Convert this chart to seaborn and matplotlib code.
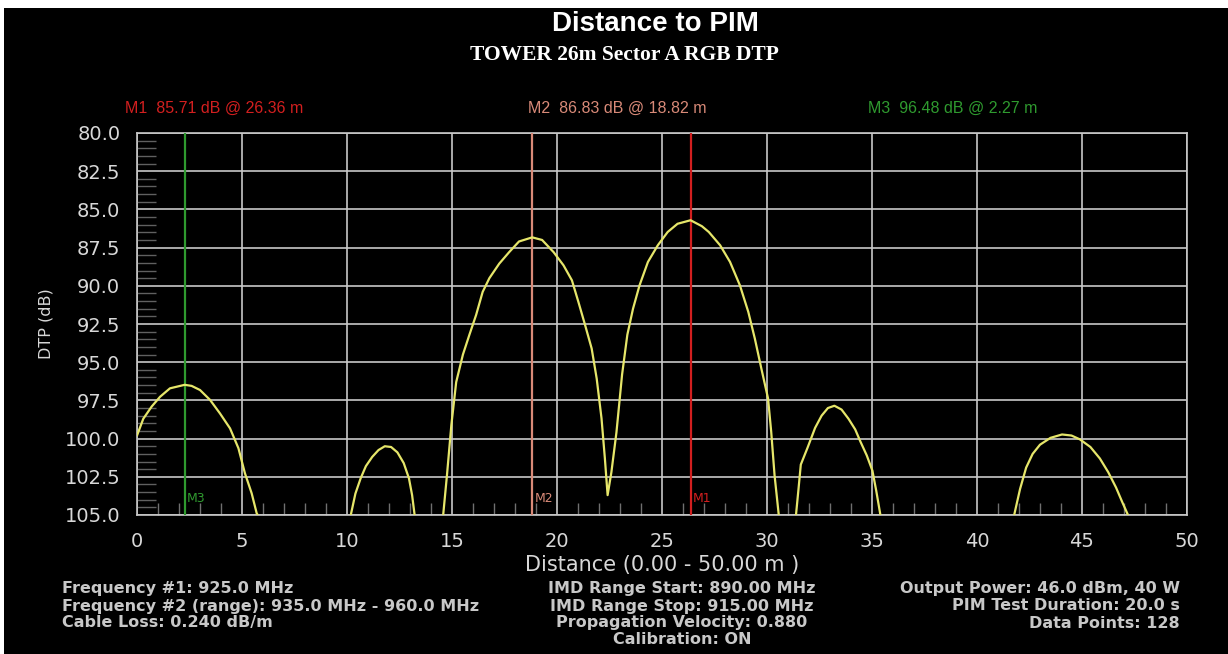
import numpy as np
import pandas as pd
import matplotlib
matplotlib.use("Agg")
import matplotlib.pyplot as plt
import seaborn as sns
from matplotlib.ticker import MultipleLocator
from matplotlib.patches import Rectangle

# ---------------- data ----------------
seg1_x = [0.0, 0.3, 0.7, 1.1, 1.57, 2.27, 2.6, 3.0, 3.48, 3.95, 4.43, 4.83,
          5.14, 5.46, 5.7, 5.75]
seg1_y = [99.8, 98.7, 97.9, 97.26, 96.71, 96.48, 96.55, 96.82, 97.47, 98.35,
          99.33, 100.63, 102.27, 103.58, 104.89, 105.0]

seg2_x = [10.18, 10.4, 10.65, 10.9, 11.2, 11.5, 11.8, 12.1, 12.4, 12.7,
          12.95, 13.1, 13.22]
seg2_y = [105.0, 103.6, 102.6, 101.8, 101.2, 100.75, 100.5, 100.55, 100.9,
          101.6, 102.6, 103.7, 105.0]

seg3_x = [14.58, 14.76, 14.97, 15.2, 15.52, 15.83, 16.15, 16.46, 16.78, 17.25,
          17.72, 18.19, 18.82, 19.29, 19.84, 20.31, 20.71, 21.02, 21.34, 21.65,
          21.89, 22.12, 22.28, 22.41, 22.59, 22.83, 23.1, 23.35, 23.62, 23.93,
          24.33, 24.8, 25.27, 25.74, 26.36, 26.9, 27.23, 27.77, 28.24, 28.71,
          29.11, 29.42, 29.73, 30.05, 30.2, 30.36, 30.56]
seg3_y = [105.0, 102.4, 99.1, 96.3, 94.5, 93.2, 91.9, 90.4, 89.5, 88.55,
          87.8, 87.1, 86.83, 87.0, 87.8, 88.66, 89.64, 91.06, 92.58, 94.1,
          96.07, 98.68, 101.3, 103.7, 102.2, 99.6, 95.8, 93.2, 91.5, 89.97,
          88.44, 87.35, 86.48, 85.94, 85.71, 86.1, 86.48, 87.35, 88.44, 89.97,
          91.71, 93.45, 95.41, 97.37, 99.55, 102.4, 105.0]

seg4_x = [31.38, 31.5, 31.61, 31.93, 32.29, 32.6, 32.9, 33.21, 33.55, 33.88,
          34.2, 34.45, 34.75, 35.02, 35.2, 35.4]
seg4_y = [105.0, 103.3, 101.7, 100.6, 99.3, 98.5, 98.0, 97.85, 98.1, 98.7,
          99.4, 100.2, 101.1, 102.1, 103.4, 105.0]

seg5_x = [41.77, 42.05, 42.34, 42.65, 43.0, 43.5, 44.05, 44.5, 44.9, 45.4,
          45.85, 46.25, 46.62, 46.9, 47.19]
seg5_y = [105.0, 103.3, 101.9, 101.0, 100.4, 99.95, 99.73, 99.8, 100.05,
          100.55, 101.3, 102.2, 103.2, 104.1, 105.0]

marker_names = ["M1", "M2", "M3"]
marker_x = [26.36, 18.82, 2.27]
marker_db = [85.71, 86.83, 96.48]

x_ticks = list(range(0, 51, 5))
y_ticks = [80.0, 82.5, 85.0, 87.5, 90.0, 92.5, 95.0, 97.5, 100.0, 102.5, 105.0]

info_left = ["Frequency #1: 925.0 MHz",
             "Frequency #2 (range): 935.0 MHz - 960.0 MHz",
             "Cable Loss: 0.240 dB/m"]
info_mid = ["IMD Range Start: 890.00 MHz",
            "IMD Range Stop: 915.00 MHz",
            "Propagation Velocity: 0.880",
            "Calibration: ON"]
info_right = ["Output Power: 46.0 dBm, 40 W",
              "PIM Test Duration: 20.0 s",
              "Data Points: 128"]

# ---------------- build frame ----------------
segs = [(seg1_x, seg1_y), (seg2_x, seg2_y), (seg3_x, seg3_y),
        (seg4_x, seg4_y), (seg5_x, seg5_y)]
rows = []
for i, (xs, ys) in enumerate(segs):
    for xv, yv in zip(xs, ys):
        rows.append({"dist": xv, "dtp": yv, "seg": i})
df = pd.DataFrame(rows)

# ---------------- style ----------------
sns.set_theme(style="dark")
plt.rcParams.update({
    "figure.facecolor": "black",
    "axes.facecolor": "black",
    "font.family": ["DejaVu Sans"],
})

fig = plt.figure(figsize=(12.28, 6.54), dpi=100)
fig.patch.set_facecolor("black")
ax = fig.add_axes([137 / 1228, 1 - 515 / 654, 1050 / 1228, 382 / 654])
ax.set_facecolor("black")

GRID = "#c8c8c8"
TXT = "#d8d8d8"
marker_colors = ["#d21f1f", "#d98a78", "#2f9a2f"]

# marker vertical lines
for name, mx, col in zip(marker_names, marker_x, marker_colors):
    ax.axvline(mx, color=col, lw=1.6, zorder=3)
    ax.text(mx + 0.1, 103.9, name, color=col, fontsize=9, ha="left",
            va="center", zorder=4)

sns.lineplot(data=df, x="dist", y="dtp", units="seg", estimator=None,
             color="#e6e66a", lw=1.6, ax=ax, zorder=5, legend=False)

ax.set_xlim(0, 50)
ax.set_ylim(105, 80)
ax.set_xticks(x_ticks)
ax.set_yticks(y_ticks)
ax.set_yticklabels([f"{v:.1f}" for v in y_ticks])
ax.xaxis.set_minor_locator(MultipleLocator(1))
ax.yaxis.set_minor_locator(MultipleLocator(0.5))
ax.grid(True, which="major", color=GRID, lw=1.2)
ax.grid(False, which="minor")
ax.tick_params(axis="both", which="major", direction="out", length=8,
               width=1.2, color=GRID, labelcolor=TXT, labelsize=14, pad=4)
ax.tick_params(axis="x", which="minor", direction="in", length=9, width=1,
               color="#707070", bottom=True)
ax.tick_params(axis="y", which="minor", direction="in", length=14, width=1,
               color="#606060", left=True)
for sp in ax.spines.values():
    sp.set_color(GRID)
    sp.set_linewidth(1.2)

ax.set_xlabel("Distance (0.00 - 50.00 m )", color=TXT, fontsize=15, labelpad=3)
ax.set_ylabel("DTP (dB)", color=TXT, fontsize=11.5, labelpad=8)

# titles
fig.text(655 / 1228, 1 - 31 / 654, "Distance to PIM", color="white",
         fontsize=20, fontweight="bold", family=["Liberation Sans"],
         ha="center", va="baseline")
fig.text(624 / 1228, 1 - 55 / 654, "TOWER 26m Sector A RGB DTP", color="white",
         fontsize=15.5, fontweight="bold", family=["Liberation Serif"],
         ha="center", va="center")

# marker readouts
read_x = [125, 528, 868]
for name, mx, db, col, px in zip(marker_names, marker_x, marker_db,
                                 marker_colors, read_x):
    fig.text(px / 1228, 1 - 108 / 654, f"{name}  {db:.2f} dB @ {mx:.2f} m",
             color=col, fontsize=11.5, family=["Liberation Sans"],
             ha="left", va="center")

# info block
INFO = "#c8c8c8"
FS = 11.5
for i, t in enumerate(info_left):
    fig.text(62 / 1228, 1 - (589 + 17 * i) / 654, t, color=INFO, fontsize=FS,
             fontweight="semibold", ha="left", va="center")
for i, t in enumerate(info_mid):
    fig.text(682 / 1228, 1 - (589 + 17 * i) / 654, t, color=INFO, fontsize=FS,
             fontweight="semibold", ha="center", va="center")
for i, t in enumerate(info_right):
    fig.text(1180 / 1228, 1 - (589 + 17 * i) / 654, t, color=INFO, fontsize=FS,
             fontweight="semibold", ha="right", va="center")

# white edge strips as in the screenshot
fig.patches.append(Rectangle((0, 1 - 8 / 654), 1, 8 / 654, transform=fig.transFigure,
                             facecolor="white", edgecolor="none", zorder=10))
fig.patches.append(Rectangle((0, 0), 4 / 1228, 1, transform=fig.transFigure,
                             facecolor="white", edgecolor="none", zorder=10))

fig.savefig("out.png", dpi=100, facecolor="black")
